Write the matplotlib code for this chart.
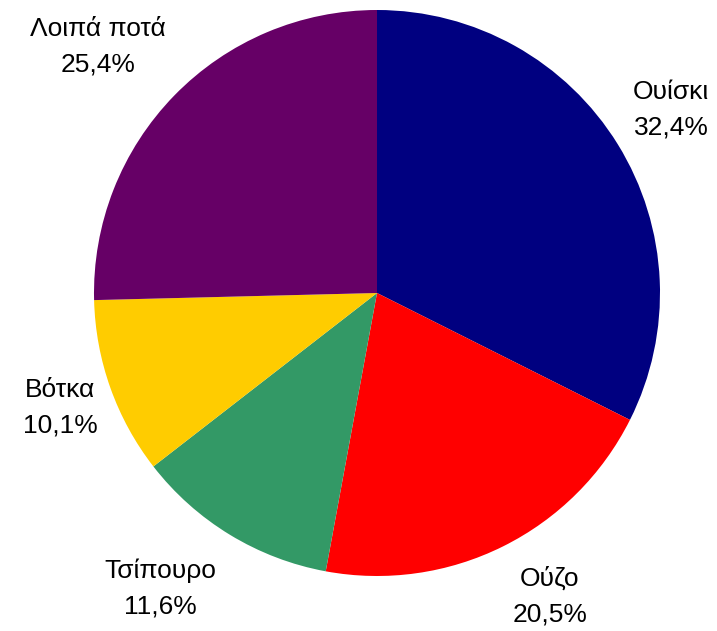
import matplotlib
matplotlib.use("Agg")
import matplotlib.pyplot as plt
import numpy as np

categories = ["Ουίσκι", "Ούζο", "Τσίπουρο", "Βότκα", "Λοιπά ποτά"]
values = [32.4, 20.5, 11.6, 10.1, 25.4]
pct_labels = ["32,4%", "20,5%", "11,6%", "10,1%", "25,4%"]
colors = ["#000080", "#FF0000", "#339966", "#FFCC00", "#660066"]

W, H = 717, 631
fig = plt.figure(figsize=(W / 100, H / 100), dpi=100)
cx, cy, r = 377, 293, 283
ax = fig.add_axes([(cx - r) / W, (H - cy - r) / H, 2 * r / W, 2 * r / H])

wedges, _ = ax.pie(values, colors=colors, startangle=90, counterclock=False,
                   radius=1.0, wedgeprops=dict(linewidth=0))
ax.set_xlim(-1, 1)
ax.set_ylim(-1, 1)
ax.set_aspect("equal")
ax.axis("off")

dists = [1.224, 1.233, 1.294, 1.19, 1.314]
ang_off = [0.2, 3.2, -5.0, 0.3, 2.9]
for w, cat, pct, d, da in zip(wedges, categories, pct_labels, dists, ang_off):
    ang = np.deg2rad((w.theta1 + w.theta2) / 2 + da)
    x, y = d * np.cos(ang), d * np.sin(ang)
    ax.text(x, y, f"{cat}\n{pct}", ha="center", va="center", fontsize=19,
            family=["Liberation Sans", "DejaVu Sans"], linespacing=1.6,
            clip_on=False)

fig.savefig("out.png", dpi=100)
